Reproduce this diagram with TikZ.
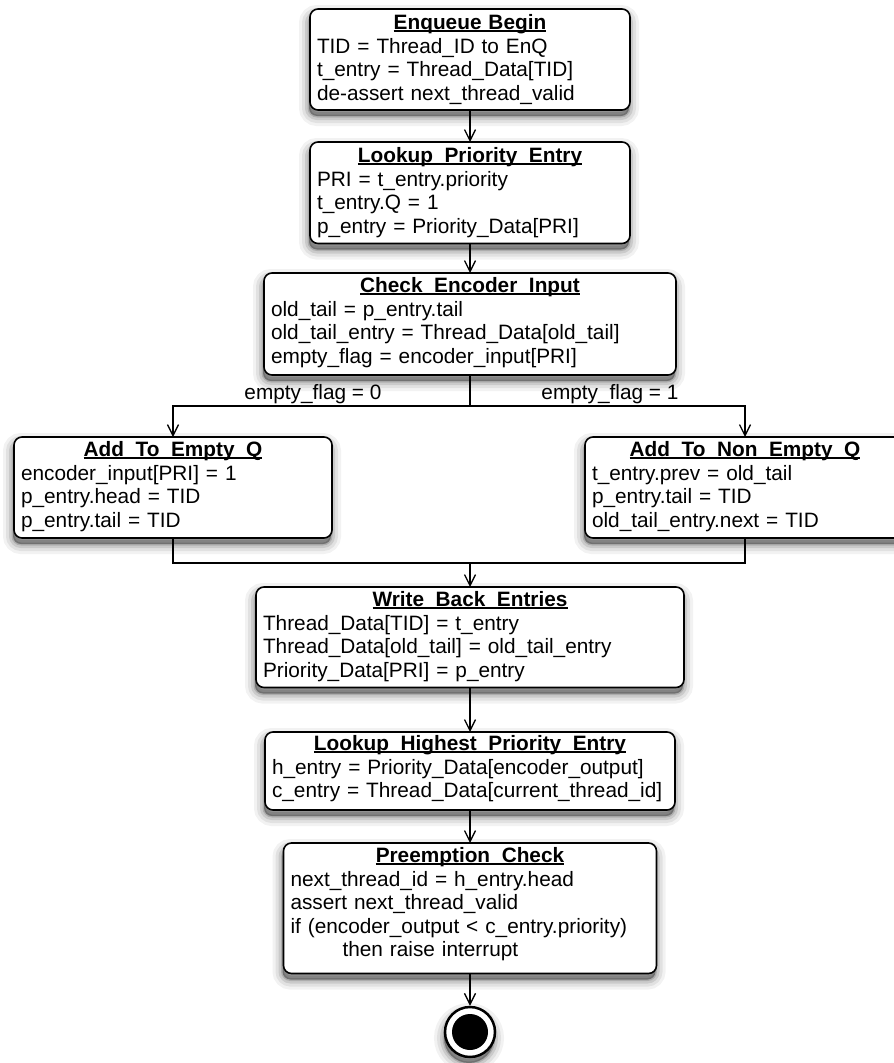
\documentclass[tikz,border=0pt]{standalone}
\usepackage{fontspec}
\setmainfont{Liberation Sans}
\usetikzlibrary{arrows.meta}

% bold title with a heavier underline
\newcommand\ultitle[1]{\sbox0{\textbf{#1}}\rlap{\rule[-2.6pt]{\wd0}{1.7pt}}\usebox0}
% centred, underlined state title with a fixed strut above the first baseline
\newcommand\boxtitle[2][19.5pt]{\noindent\makebox[\hsize][c]{\rule{0pt}{#1}\ultitle{#2}}}
% fixed depth below the last baseline
\newcommand\bdepth[1]{\rule[-#1]{0pt}{#1}}

\tikzset{
  softshadow/.style={
    preaction={draw=black, line width=20pt, draw opacity=0.05,
      transform canvas={xshift=-1pt, yshift=-6pt}},
    preaction={draw=black, line width=14pt, draw opacity=0.07,
      transform canvas={xshift=-1pt, yshift=-6pt}},
    preaction={draw=black, line width=8pt, draw opacity=0.10,
      transform canvas={xshift=-1pt, yshift=-6pt}},
    preaction={draw=black, line width=3pt, draw opacity=0.14,
      transform canvas={xshift=-1pt, yshift=-6pt}},
    preaction={fill=black, fill opacity=0.35,
      transform canvas={xshift=-1pt, yshift=-6pt}},
  },
  statebox/.style={draw, line width=1.6pt, rounded corners=8pt, fill=white, softshadow,
    inner xsep=7pt, inner ysep=0pt, outer sep=0pt, align=left, anchor=north west,
    font=\fontsize{20.8pt}{23.5pt}\selectfont},
  condlabel/.style={font=\fontsize{20.8pt}{23.5pt}\selectfont, inner sep=0pt, anchor=base},
  wire/.style={line width=1.3pt},
  arr/.style={wire, -{Straight Barb[length=11pt,width=11pt,line width=1.3pt]}},
}

\begin{document}
\begin{tikzpicture}[x=1pt,y=-1pt]
\useasboundingbox (0,0) rectangle (894,1063);

\node[statebox, text width=306pt] (b1) at (310,9) {\boxtitle[20.5pt]{Enqueue Begin}\\
TID = Thread\_ID to EnQ\\
t\_entry = Thread\_Data[TID]\\
de-assert next\_thread\_valid\bdepth{10pt}};

\node[statebox, text width=306pt] (b2) at (310,142) {\boxtitle[20.5pt]{Lookup\_Priority\_Entry}\\
PRI = t\_entry.priority\\
t\_entry.Q = 1\\
p\_entry = Priority\_Data[PRI]\bdepth{10.5pt}};

\node[statebox, text width=398pt] (b3) at (264,273) {\boxtitle{Check\_Encoder\_Input}\\
old\_tail = p\_entry.tail\\
old\_tail\_entry = Thread\_Data[old\_tail]\\
empty\_flag = encoder\_input[PRI]\bdepth{12pt}};

\node[statebox, text width=304pt] (b4) at (14,437) {\boxtitle{Add\_To\_Empty\_Q}\\
encoder\_input[PRI] = 1\\
p\_entry.head = TID\\
p\_entry.tail = TID\bdepth{11pt}};

\node[statebox, text width=306pt] (b5) at (585,437) {\boxtitle{Add\_To\_Non\_Empty\_Q}\\
t\_entry.prev = old\_tail\\
p\_entry.tail = TID\\
old\_tail\_entry.next = TID\bdepth{11pt}};

\node[statebox, text width=414pt] (b6) at (256,587) {\boxtitle{Write\_Back\_Entries}\\
Thread\_Data[TID] = t\_entry\\
Thread\_Data[old\_tail] = old\_tail\_entry\\
Priority\_Data[PRI] = p\_entry\bdepth{10.5pt}};

\node[statebox, text width=396pt] (b7) at (265,732) {\boxtitle[18.5pt]{Lookup\_Highest\_Priority\_Entry}\\
h\_entry = Priority\_Data[encoder\_output]\\
c\_entry = Thread\_Data[current\_thread\_id]\bdepth{12.5pt}};

\node[statebox, text width=359pt] (b8) at (283.5,843) {\boxtitle{Preemption\_Check}\\
next\_thread\_id = h\_entry.head\\
assert next\_thread\_valid\\
if (encoder\_output < c\_entry.priority)\\
\hspace*{52pt}then raise interrupt\bdepth{17pt}};

% final state
\node[circle, draw, line width=2.5pt, fill=white, minimum size=50pt, inner sep=0pt, softshadow,
  path picture={\fill[black] (path picture bounding box.center) circle[radius=18pt];}]
  (final) at (470,1032) {};

% sequence
\draw[arr] (b1.south) -- (b2.north);
\draw[arr] (b2.south) -- (b3.north);

% branch on empty_flag
\coordinate (split) at (470,406);
\draw[wire] (b3.south) -- (split);
\draw[arr] (split) -| (b4.north);
\draw[arr] (split) -| (b5.north);
\node[condlabel] (c0) at (313,399) {empty\_flag = 0};
\node[condlabel] (c1) at (610,399) {empty\_flag = 1};

% join
\coordinate (join) at (470,563);
\draw[wire] (b4.south) |- (join);
\draw[wire] (b5.south) |- (join);
\draw[arr] (join) -- (b6.north);

\draw[arr] (b6.south) -- (b7.north);
\draw[arr] (b7.south) -- (b8.north);
\draw[arr] (b8.south) -- (final.north);
\end{tikzpicture}
\end{document}
